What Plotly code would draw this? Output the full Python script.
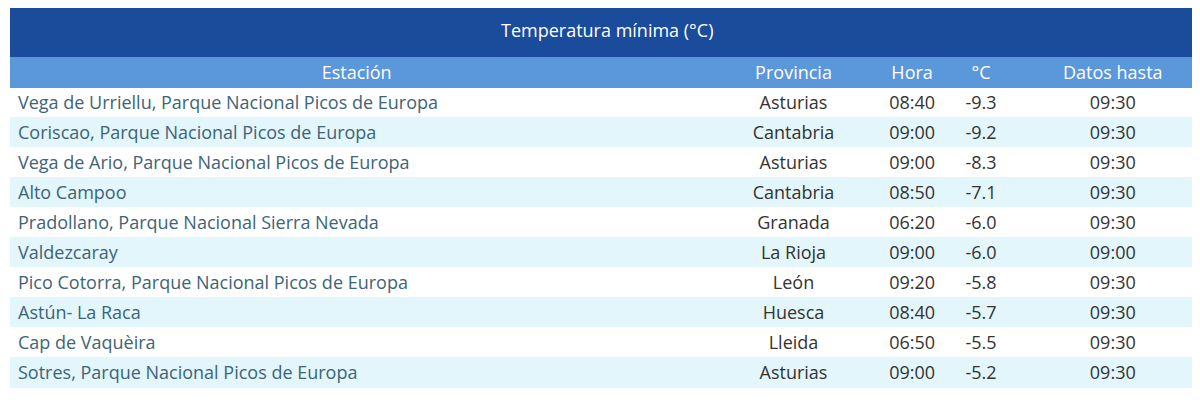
import plotly.graph_objects as go

title = "Temperatura mínima (°C)"
columns = ["Estación", "Provincia", "Hora", "°C", "Datos hasta"]
estaciones = ["Vega de Urriellu, Parque Nacional Picos de Europa",
              "Coriscao, Parque Nacional Picos de Europa",
              "Vega de Ario, Parque Nacional Picos de Europa",
              "Alto Campoo",
              "Pradollano, Parque Nacional Sierra Nevada",
              "Valdezcaray",
              "Pico Cotorra, Parque Nacional Picos de Europa",
              "Astún- La Raca",
              "Cap de Vaquèira",
              "Sotres, Parque Nacional Picos de Europa"]
provincias = ["Asturias", "Cantabria", "Asturias", "Cantabria", "Granada",
              "La Rioja", "León", "Huesca", "Lleida", "Asturias"]
horas = ["08:40", "09:00", "09:00", "08:50", "06:20", "09:00", "09:20", "08:40", "06:50", "09:00"]
temps = [-9.3, -9.2, -8.3, -7.1, -6.0, -6.0, -5.8, -5.7, -5.5, -5.2]
datos_hasta = ["09:30", "09:30", "09:30", "09:30", "09:30", "09:00", "09:30", "09:30", "09:30", "09:30"]

FONT = "Open Sans"
n = len(estaciones)
row_fill = ["#ffffff" if i % 2 == 0 else "#e2f6fb" for i in range(n)]

fig = go.Figure(go.Table(
    columnwidth=[684, 178, 56, 80, 180],
    header=dict(values=columns, fill_color="#5b97db", line_color="#5b97db",
                font=dict(family=FONT, size=18, color="white"),
                align="center", height=30),
    cells=dict(values=[estaciones, provincias, horas, [f"{t:.1f}" for t in temps], datos_hasta],
               fill_color=[row_fill] * 5, line_color=[row_fill] * 5,
               font=dict(family=FONT, size=18, color=["#3d6478", "#333333", "#333333", "#333333", "#333333"]),
               align=["left", "center", "center", "center", "center"], height=30),
    domain=dict(x=[0, 1], y=[0, 1]),
))

H = 404
t, b = 49, 8
ph = H - t - b
fig.add_shape(type="rect", xref="paper", yref="paper", x0=0, x1=1, y0=1, y1=1 + 54 / ph,
              fillcolor="#1b4b9b", line_width=0, layer="below")
fig.add_annotation(text=title, xref="paper", yref="paper", x=0.5, y=1 + 27 / ph,
                   showarrow=False, font=dict(family=FONT, size=18, color="white"),
                   xanchor="center", yanchor="middle")
fig.update_layout(width=1200, height=H, margin=dict(l=2, r=4, t=t, b=b),
                  paper_bgcolor="white", plot_bgcolor="white")
fig.write_html("out.html")
